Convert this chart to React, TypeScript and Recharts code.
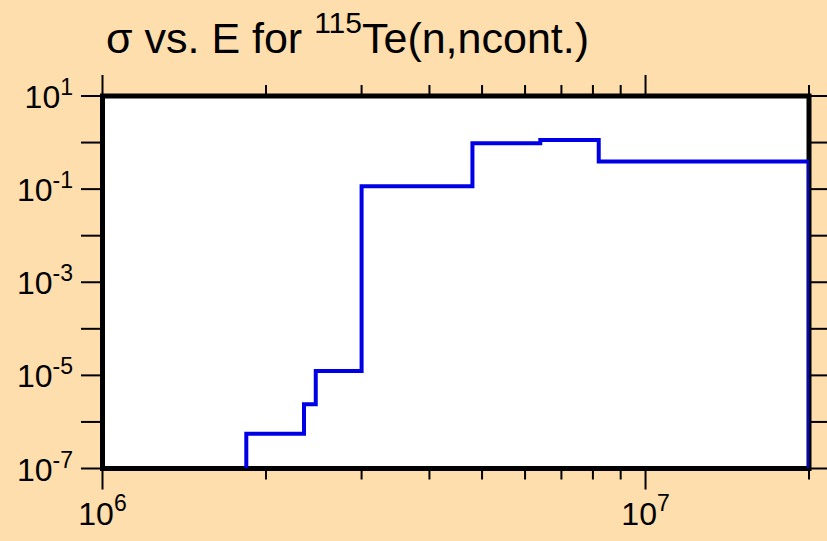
import { LineChart, Line, XAxis, YAxis, ReferenceArea } from 'recharts'

// bin edges (eV) and cross sections (b)
const energies = [1.84e6, 2.35e6, 2.47e6, 3.0e6, 4.8e6, 6.4e6, 8.2e6, 2.0e7]
const sigma = [5.6e-7, 2.4e-6, 1.24e-5, 0.115, 0.97, 1.13, 0.39]
const floorValue = 1e-7

const xMajorTicks = [1e6, 1e7]
const xMinorTicks = [2e6, 3e6, 4e6, 5e6, 6e6, 7e6, 8e6, 9e6, 2e7]
const yTicks = [1e-7, 1e-6, 1e-5, 1e-4, 1e-3, 1e-2, 1e-1, 1e0, 1e1]
const yLabelExps = [-7, -5, -3, -1, 1]
const xLabelExps = [6, 7]

const W = 827
const H = 541
const LEFT = 102.5
const RIGHT = 809
const TOP = 96
const BOTTOM = 468.5
const FONT = '"Liberation Sans", Arial, Helvetica, sans-serif'

const data = [
  { e: energies[0], s: floorValue },
  ...sigma.map((s, i) => ({ e: energies[i], s })),
  { e: energies[energies.length - 1], s: sigma[sigma.length - 1] },
  { e: energies[energies.length - 1], s: floorValue },
]

const xTicks = [...xMajorTicks, ...xMinorTicks]

function exp10(v: number) {
  return Math.round(Math.log10(v))
}

function BottomTick(props: any) {
  const { x, payload } = props
  const v = payload.value
  const major = xMajorTicks.includes(v)
  const n = exp10(v)
  return (
    <g>
      <line x1={x} x2={x} y1={BOTTOM} y2={BOTTOM + (major ? 21 : 11)} stroke="#000" strokeWidth={2} />
      {major && xLabelExps.includes(n) && (
        <text x={x} y={525} textAnchor="middle" fontFamily={FONT} fill="#000">
          <tspan fontSize={32}>10</tspan>
          <tspan fontSize={23} dy={-14}>{n}</tspan>
        </text>
      )}
    </g>
  )
}

function TopTick(props: any) {
  const { x, payload } = props
  const major = xMajorTicks.includes(payload.value)
  return <line x1={x} x2={x} y1={TOP} y2={TOP - (major ? 21 : 11)} stroke="#000" strokeWidth={2} />
}

function LeftTick(props: any) {
  const { y, payload } = props
  const n = exp10(payload.value)
  return (
    <g>
      <line x1={LEFT - 21.5} x2={LEFT} y1={y} y2={y} stroke="#000" strokeWidth={2} />
      {yLabelExps.includes(n) && (
        <text x={73} y={y + 12} textAnchor="end" fontFamily={FONT} fill="#000">
          <tspan fontSize={32}>10</tspan>
          <tspan fontSize={23} dy={-13}>{n}</tspan>
        </text>
      )}
    </g>
  )
}

function RightTick(props: any) {
  const { y } = props
  return <line x1={RIGHT} x2={RIGHT + 20} y1={y} y2={y} stroke="#000" strokeWidth={2} />
}

export default function App() {
  return (
    <div style={{ position: 'absolute', left: 0, top: 0, width: W, height: H, background: '#FFDEAD' }}>
      <LineChart width={W} height={H} data={data} margin={{ top: 0, right: 0, bottom: 0, left: 0 }}>
        <XAxis
          dataKey="e"
          type="number"
          scale="log"
          domain={[1e6, 2e7]}
          allowDataOverflow
          ticks={xTicks}
          interval={0}
          tick={<BottomTick />}
          tickLine={false}
          axisLine={false}
          height={H - BOTTOM}
        />
        <XAxis
          xAxisId="top"
          orientation="top"
          dataKey="e"
          type="number"
          scale="log"
          domain={[1e6, 2e7]}
          allowDataOverflow
          ticks={xTicks}
          interval={0}
          tick={<TopTick />}
          tickLine={false}
          axisLine={false}
          height={TOP}
        />
        <YAxis
          type="number"
          scale="log"
          domain={[1e-7, 10]}
          allowDataOverflow
          ticks={yTicks}
          interval={0}
          tick={<LeftTick />}
          tickLine={false}
          axisLine={false}
          width={LEFT}
        />
        <YAxis
          yAxisId="right"
          orientation="right"
          type="number"
          scale="log"
          domain={[1e-7, 10]}
          allowDataOverflow
          ticks={yTicks}
          interval={0}
          tick={<RightTick />}
          tickLine={false}
          axisLine={false}
          width={W - RIGHT}
        />
        <ReferenceArea x1={1e6} x2={2e7} y1={1e-7} y2={10} fill="#fff" fillOpacity={1} stroke="#000" strokeWidth={5} />
        <Line
          type="stepAfter"
          dataKey="s"
          stroke="#0000e6"
          strokeWidth={4}
          dot={false}
          activeDot={false}
          isAnimationActive={false}
        />
      </LineChart>
      <svg width={W} height={H} style={{ position: 'absolute', left: 0, top: 0, pointerEvents: 'none' }}>
        <text x={106} y={53} fontFamily={FONT} fill="#000">
          <tspan fontSize={43}>σ vs. E for </tspan>
          <tspan fontSize={30} dy={-20}>115</tspan>
          <tspan fontSize={43} dy={20}>Te(n,ncont.)</tspan>
        </text>
      </svg>
    </div>
  )
}
